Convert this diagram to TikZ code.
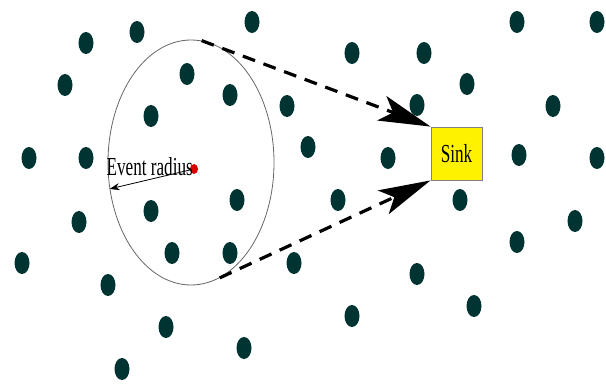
\documentclass[tikz,border=0pt]{standalone}
\usepackage{graphicx}
\usepackage{fontspec}
\setmainfont{Liberation Serif}
\usetikzlibrary{arrows.meta}
\usetikzlibrary{shapes.geometric}
\definecolor{motecol}{RGB}{0,52,50}
\newcommand{\squeezed}[1]{\scalebox{0.66}[1]{#1}}
\tikzset{
  sensor/.style={ellipse, fill=motecol, minimum width=15pt, minimum height=22pt, inner sep=0pt},
  report/.style={line width=3.2pt, dash pattern=on 13pt off 9pt, -{Stealth[length=52pt, width=26pt, inset=12pt]}},
  bigtext/.style={font=\fontsize{26}{30}\selectfont}
}

\begin{document}
\begin{tikzpicture}[x=1pt, y=-1pt]
      \useasboundingbox (0,0) rectangle (606,385);
      \foreach \p [count=\i] in {(86,43),(137,32),(252,22),(65,85),(187,74),(230,95),(287,106),(151,116),
        (29,158),(86,158),(308,147),(352,53),(424,53),(517,22),(597,22),(467,84),(553,106),(417,105),
        (388,158),(519,155),(597,158),(79,222),(151,211),(237,200),(22,263),(172,253),(230,253),(294,263),
        (108,285),(166,327),(244,348),(122,369),(338,200),(460,200),(575,221),(517,242),(417,274),
        (474,306),(352,316)}
        \node[sensor] (d\i) at \p {};
      \node[ellipse, draw=gray!80!black, line width=0.8pt, minimum width=166pt, minimum height=245pt, inner sep=0pt] (area) at (191,162.5) {};
      \node[ellipse, fill=red!85!black, minimum width=8pt, minimum height=10pt, inner sep=0pt] (event) at (194,169) {};
      \node[draw=gray, line width=0.8pt, fill=yellow, minimum width=51pt, minimum height=53pt, inner sep=0pt, bigtext] (sink) at (456.5,153.5) {\squeezed{Sink}};
      \draw[line width=0.8pt, -{Stealth[length=10pt, width=7pt]}] (event) -- (area.198) node[midway, above, bigtext] {\squeezed{Event radius}};
      \draw[report] (area.85) -- (sink.north west);
      \draw[report] (area.-76) -- (sink.south west);
    \end{tikzpicture}
\end{document}
